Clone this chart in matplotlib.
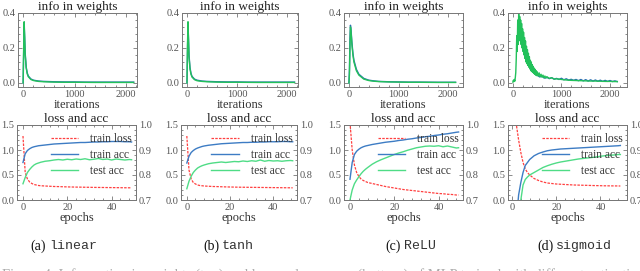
import matplotlib
matplotlib.use("Agg")
import matplotlib.pyplot as plt
from matplotlib.ticker import AutoMinorLocator

plt.rcParams['font.family'] = ['Liberation Serif', 'DejaVu Serif']

# ---------------- data ----------------
titles_top = "info in weights"
titles_bot = "loss and acc"
captions = ["(a)", "(b)", "(c)", "(d)"]
caption_code = ["linear", "tanh", "ReLU", "sigmoid"]

# info in weights (iterations)
it_std = [0, 10, 20, 30, 40, 60, 80, 100, 150, 200, 300, 400, 500, 600, 800,
          1000, 1200, 1400, 1600, 1800, 2000, 2150]
info_a_green = [0.0, 0.2, 0.35, 0.26, 0.16, 0.085, 0.052, 0.036, 0.02, 0.014, 0.009,
                0.007, 0.006, 0.005, 0.004, 0.004, 0.0035, 0.003, 0.003, 0.003, 0.003, 0.003]
info_a_blue = [0.0, 0.17, 0.33, 0.26, 0.17, 0.09, 0.057, 0.04, 0.023, 0.016, 0.011,
               0.009, 0.008, 0.007, 0.006, 0.006, 0.005, 0.005, 0.005, 0.005, 0.005, 0.005]
info_b_green = [0.0, 0.22, 0.35, 0.25, 0.15, 0.08, 0.05, 0.034, 0.019, 0.013, 0.009,
                0.007, 0.006, 0.005, 0.004, 0.004, 0.0035, 0.003, 0.003, 0.003, 0.003, 0.003]
info_b_blue = [0.0, 0.18, 0.33, 0.25, 0.16, 0.088, 0.055, 0.038, 0.022, 0.016, 0.011,
               0.009, 0.008, 0.007, 0.006, 0.006, 0.005, 0.005, 0.005, 0.005, 0.005, 0.005]
info_c_green = [0.0, 0.05, 0.2, 0.32, 0.3, 0.22, 0.16, 0.12, 0.07, 0.045, 0.022,
                0.014, 0.01, 0.008, 0.006, 0.005, 0.004, 0.004, 0.0035, 0.003, 0.003, 0.003]
info_c_blue = [0.0, 0.08, 0.25, 0.33, 0.31, 0.23, 0.17, 0.13, 0.078, 0.05, 0.026,
               0.016, 0.012, 0.009, 0.007, 0.006, 0.005, 0.005, 0.0045, 0.004, 0.004, 0.004]

it_sig = [0, 10, 20, 30, 40, 50, 60, 70, 80, 90, 100, 110, 120, 130, 140, 150, 160,
          170, 180, 190, 200, 210, 220, 230, 240, 250, 260, 270, 280, 290, 300, 310,
          320, 330, 340, 350, 360, 370, 380, 390, 400, 410, 420, 430, 440, 450, 460,
          470, 480, 490, 500, 520, 540, 560, 580, 600, 620, 640, 660, 680, 700, 750,
          800, 850, 900, 1000, 1100, 1200, 1300, 1400, 1500, 1600, 1700, 1800, 1900,
          2000, 2100, 2150]
info_d_green = [0.005, 0.015, 0.008, 0.02, 0.01, 0.03, 0.06, 0.14, 0.27, 0.18, 0.36,
                0.22, 0.40, 0.25, 0.38, 0.24, 0.36, 0.22, 0.34, 0.2, 0.31, 0.18, 0.29,
                0.16, 0.26, 0.14, 0.24, 0.12, 0.21, 0.11, 0.19, 0.1, 0.17, 0.09, 0.15,
                0.08, 0.13, 0.07, 0.12, 0.065, 0.105, 0.06, 0.095, 0.055, 0.085, 0.05,
                0.078, 0.045, 0.07, 0.042, 0.064, 0.04, 0.058, 0.036, 0.05, 0.033, 0.045,
                0.03, 0.04, 0.028, 0.036, 0.026, 0.03, 0.022, 0.024, 0.02, 0.017, 0.015,
                0.014, 0.013, 0.012, 0.011, 0.011, 0.01, 0.009, 0.009, 0.008, 0.008]
it_sig_blue = [300, 350, 400, 450, 500, 550, 600, 650, 700, 750, 800, 850, 900, 950,
               1000, 1050, 1100, 1150, 1200, 1250, 1300, 1350, 1400, 1450, 1500, 1550,
               1600, 1650, 1700, 1750, 1800, 1850, 1900, 1950, 2000, 2050, 2100, 2150]
info_d_blue = [0.14, 0.09, 0.07, 0.05, 0.045, 0.035, 0.038, 0.028, 0.032, 0.025, 0.03,
               0.022, 0.026, 0.02, 0.027, 0.018, 0.024, 0.016, 0.021, 0.015, 0.02, 0.013,
               0.02, 0.012, 0.019, 0.011, 0.018, 0.011, 0.017, 0.01, 0.016, 0.009, 0.015,
               0.009, 0.014, 0.008, 0.012, 0.008]

# loss and acc (epochs)
ep = [0, 1, 2, 3, 4, 5, 6, 7, 8, 10, 12, 14, 16, 18, 20, 22, 24, 26, 28, 30, 32, 34,
      36, 38, 40, 42, 44, 46, 48, 49]
loss_a = [1.28, 0.55, 0.42, 0.36, 0.33, 0.31, 0.30, 0.29, 0.285, 0.28, 0.275, 0.27,
          0.268, 0.265, 0.262, 0.26, 0.258, 0.257, 0.255, 0.254, 0.252, 0.251, 0.25,
          0.249, 0.248, 0.247, 0.246, 0.245, 0.244, 0.244]
tracc_a = [0.85, 0.885, 0.898, 0.905, 0.91, 0.913, 0.915, 0.917, 0.918, 0.92, 0.922,
           0.924, 0.925, 0.926, 0.927, 0.928, 0.929, 0.93, 0.93, 0.931, 0.932, 0.932,
           0.933, 0.933, 0.934, 0.934, 0.934, 0.933, 0.933, 0.932]
teacc_a = [0.765, 0.79, 0.81, 0.822, 0.832, 0.84, 0.845, 0.848, 0.851, 0.855, 0.857,
           0.86, 0.862, 0.86, 0.863, 0.861, 0.864, 0.862, 0.865, 0.861, 0.863, 0.866,
           0.862, 0.864, 0.86, 0.864, 0.862, 0.86, 0.862, 0.861]
loss_b = [1.28, 0.6, 0.42, 0.35, 0.32, 0.30, 0.29, 0.285, 0.28, 0.275, 0.27, 0.268,
          0.265, 0.262, 0.26, 0.258, 0.256, 0.255, 0.254, 0.253, 0.252, 0.251, 0.25,
          0.249, 0.248, 0.247, 0.246, 0.245, 0.244, 0.244]
tracc_b = [0.848, 0.875, 0.89, 0.898, 0.904, 0.908, 0.911, 0.914, 0.916, 0.919, 0.921,
           0.923, 0.925, 0.926, 0.927, 0.928, 0.929, 0.93, 0.93, 0.931, 0.931, 0.932,
           0.932, 0.933, 0.933, 0.933, 0.934, 0.934, 0.933, 0.933]
teacc_b = [0.745, 0.775, 0.795, 0.81, 0.82, 0.828, 0.833, 0.837, 0.84, 0.845, 0.848,
           0.85, 0.852, 0.85, 0.852, 0.854, 0.853, 0.856, 0.854, 0.857, 0.855, 0.86,
           0.855, 0.858, 0.856, 0.857, 0.855, 0.857, 0.858, 0.857]
loss_c = [1.55, 1.0, 0.7, 0.55, 0.47, 0.42, 0.39, 0.37, 0.35, 0.33, 0.31, 0.29, 0.27,
          0.255, 0.24, 0.225, 0.21, 0.2, 0.19, 0.18, 0.17, 0.16, 0.15, 0.14, 0.13,
          0.125, 0.115, 0.11, 0.1, 0.1]
tracc_c = [0.783, 0.85, 0.882, 0.895, 0.903, 0.909, 0.913, 0.916, 0.918, 0.922, 0.925,
           0.928, 0.931, 0.933, 0.935, 0.938, 0.94, 0.943, 0.945, 0.948, 0.95, 0.953,
           0.955, 0.958, 0.96, 0.963, 0.965, 0.968, 0.971, 0.972]
teacc_c = [0.70, 0.74, 0.765, 0.78, 0.793, 0.805, 0.815, 0.823, 0.83, 0.843, 0.853,
           0.861, 0.868, 0.875, 0.882, 0.888, 0.893, 0.899, 0.904, 0.909, 0.912, 0.915,
           0.916, 0.915, 0.917, 0.913, 0.916, 0.912, 0.908, 0.909]
loss_d = [2.3, 1.9, 1.5, 1.2, 0.95, 0.75, 0.62, 0.55, 0.5, 0.43, 0.39, 0.36, 0.34,
          0.33, 0.32, 0.315, 0.31, 0.305, 0.3, 0.298, 0.295, 0.293, 0.29, 0.288,
          0.286, 0.284, 0.283, 0.282, 0.281, 0.28]
tracc_d = [0.4, 0.5, 0.62, 0.72, 0.77, 0.81, 0.838, 0.85, 0.862, 0.877, 0.886, 0.892,
           0.897, 0.9, 0.902, 0.904, 0.905, 0.906, 0.907, 0.908, 0.909, 0.91, 0.911,
           0.912, 0.913, 0.914, 0.915, 0.916, 0.917, 0.918]
teacc_d = [0.3, 0.4, 0.5, 0.6, 0.70, 0.76, 0.782, 0.792, 0.8, 0.81, 0.82, 0.83, 0.837,
           0.843, 0.848, 0.852, 0.855, 0.858, 0.861, 0.864, 0.866, 0.868, 0.87, 0.872,
           0.875, 0.877, 0.879, 0.88, 0.882, 0.882]

top_green = [info_a_green, info_b_green, info_c_green, info_d_green]
top_blue = [info_a_blue, info_b_blue, info_c_blue, info_d_blue]
top_x_green = [it_std, it_std, it_std, it_sig]
top_x_blue = [it_std, it_std, it_std, it_sig_blue]
losses = [loss_a, loss_b, loss_c, loss_d]
traccs = [tracc_a, tracc_b, tracc_c, tracc_d]
teaccs = [teacc_a, teacc_b, teacc_c, teacc_d]

# ---------------- layout ----------------
W, H = 640, 271
fig = plt.figure(figsize=(W / 100, H / 100), dpi=100)
fig.patch.set_facecolor('white')

def px_axes(x0, y0, x1, y1):
    return fig.add_axes([x0 / W, 1 - y1 / H, (x1 - x0) / W, (y1 - y0) / H])

top_x = [(18, 137), (182, 298), (344, 463), (508, 627)]
bot_x = [(17, 136), (181, 297), (344, 463), (508, 627)]
top_xlim = [(-100, 2215), (-100, 2220), (-100, 2300), (-100, 2350)]
bot_xlim = [(-2.7, 51), (-2.7, 51), (-2.7, 51), (-1.8, 52)]

spine_col = '#777777'
tick_col = '#555555'
BLUE = '#3d7cc4'
GREEN = '#22c15a'
LGREEN = '#4fdc86'
RED = '#ff4040'

def style(ax):
    for s in ax.spines.values():
        s.set_color(spine_col)
        s.set_linewidth(0.7)
    ax.tick_params(direction='in', which='both', top=True, right=True,
                   colors=spine_col, labelcolor=tick_col, labelsize=7.5,
                   width=0.6, pad=2)
    ax.tick_params(which='major', length=3)
    ax.tick_params(which='minor', length=1.5)
    ax.xaxis.set_minor_locator(AutoMinorLocator(5))
    ax.yaxis.set_minor_locator(AutoMinorLocator(5))

for i in range(4):
    # ---- top: info in weights ----
    ax = px_axes(top_x[i][0], 13, top_x[i][1], 87)
    ax.plot(top_x_blue[i], top_blue[i], color='#2a6fb0', lw=1.0)
    ax.plot(top_x_green[i], top_green[i], color=GREEN, lw=1.0)
    ax.set_xlim(*top_xlim[i])
    ax.set_ylim(-0.023, 0.4)
    ax.set_xticks([0, 1000, 2000])
    ax.set_yticks([0.0, 0.2, 0.4])
    ax.set_yticklabels(['0.0', '0.2', '0.4'])
    style(ax)
    ax.set_title(titles_top, fontsize=9.5, pad=1.0, color='#222222')
    ax.set_xlabel('iterations', fontsize=9, labelpad=0, color='#333333')

    # ---- bottom: loss and acc ----
    axl = px_axes(bot_x[i][0], 125, bot_x[i][1], 200)
    axr = axl.twinx()
    l1, = axl.plot(ep, losses[i], color=RED, lw=0.9, ls=(0, (2, 1)),
                   label='train loss')
    l2, = axr.plot(ep, traccs[i], color=BLUE, lw=1.0, label='train acc')
    l3, = axr.plot(ep, teaccs[i], color=LGREEN, lw=1.0, label='test acc')
    axl.set_xlim(*bot_xlim[i])
    axl.set_ylim(0, 1.5)
    axr.set_ylim(0.7, 1.0)
    axl.set_xticks([0, 20, 40])
    axl.set_yticks([0.0, 0.5, 1.0, 1.5])
    axr.set_yticks([0.7, 0.8, 0.9, 1.0])
    style(axl)
    style(axr)
    axl.tick_params(right=False, which='both')
    axr.tick_params(left=False, which='both')
    axl.set_title(titles_bot, fontsize=9.5, pad=1.0, color='#222222')
    axl.set_xlabel('epochs', fontsize=9, labelpad=0, color='#333333')
    leg = axr.legend([l1, l2, l3], ['train loss', 'train acc', 'test acc'],
                     loc='upper right', bbox_to_anchor=(1.02, 0.98),
                     frameon=False, fontsize=8.3, handlelength=2.4,
                     labelspacing=0.35, handletextpad=1.0, borderaxespad=0.2)
    for t in leg.get_texts():
        t.set_color('#333333')

# subfigure captions
cap_x0 = [30, 203, 385, 537]
for i in range(4):
    fig.text(cap_x0[i] / W, 1 - 246 / H, captions[i], ha='left', va='center',
             fontsize=10, color='#111111')
    fig.text((cap_x0[i] + 19) / W, 1 - 246 / H, caption_code[i], ha='left',
             va='center', fontsize=9.5, color='#333333',
             family=['Liberation Mono', 'DejaVu Sans Mono'])

# partially visible figure caption at the bottom edge
fig.text(2 / W, 1 - 268 / H,
         "Figure 4: Information in weights (top) and loss and accuracy (bottom) of MLP trained with different activation functions.",
         ha='left', va='top', fontsize=10.5, color='#aaaaaa')

fig.savefig('out.png', dpi=100, facecolor='white')
